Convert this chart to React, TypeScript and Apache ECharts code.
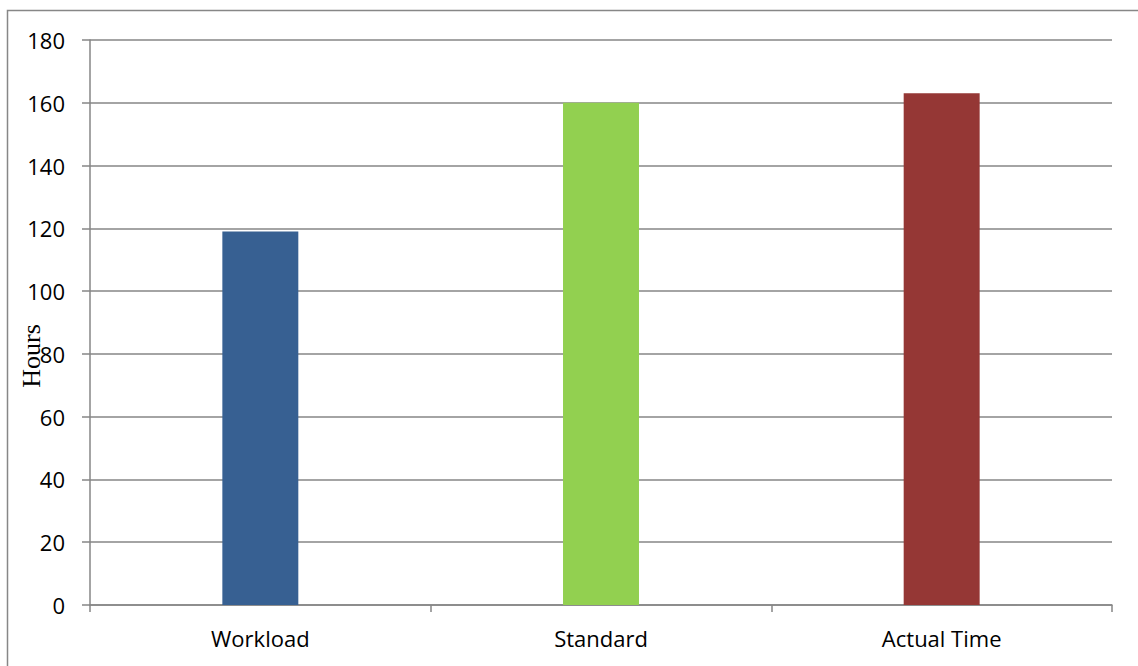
import React, { useEffect, useRef } from "react";
import * as echarts from "echarts";

const categories = ["Workload", "Standard", "Actual Time"];
const hours = [119, 160, 163];
const barColors = ["#376092", "#92D050", "#953735"];
const yTicks = { min: 0, max: 180, interval: 20 };

export default function App() {
  const ref = useRef<HTMLDivElement>(null);

  useEffect(() => {
    if (!ref.current) return;
    const chart = echarts.init(ref.current, undefined, { renderer: "svg" });
    const font = "Open Sans, Liberation Sans, sans-serif";
    chart.setOption({
      animation: false,
      backgroundColor: "#ffffff",
      grid: { left: 90, top: 40, right: 26, bottom: 61, containLabel: false },
      xAxis: {
        type: "category",
        data: categories,
        axisLine: { show: true, lineStyle: { color: "#868686", width: 1.5 } },
        axisTick: { show: true, length: 7, lineStyle: { color: "#868686", width: 1.5 } },
        axisLabel: { color: "#000", fontSize: 22, fontFamily: font, margin: 22 },
      },
      yAxis: {
        type: "value",
        min: yTicks.min,
        max: yTicks.max,
        interval: yTicks.interval,
        axisLine: { show: true, lineStyle: { color: "#868686", width: 1.5 } },
        axisTick: { show: true, length: 8, lineStyle: { color: "#868686", width: 1.5 } },
        axisLabel: { color: "#000", fontSize: 22, fontFamily: font, margin: 25 },
        splitLine: { show: true, lineStyle: { color: "#868686", width: 1.5 } },
      },
      series: [
        {
          type: "bar",
          barWidth: "22.3%",
          data: hours.map((v, i) => ({ value: v, itemStyle: { color: barColors[i] } })),
        },
      ],
      graphic: [
        {
          type: "rect",
          silent: true,
          shape: { x: 7.5, y: 10.5, width: 1300, height: 800 },
          style: { fill: "none", stroke: "#878787", lineWidth: 1.5 },
        },
        {
          type: "text",
          x: 31,
          y: 356,
          rotation: Math.PI / 2,
          style: {
            text: "Hours",
            fill: "#000",
            fontSize: 26,
            fontFamily: "Liberation Serif, DejaVu Serif, serif",
            align: "center",
            verticalAlign: "middle",
          },
        },
      ],
    });
    return () => chart.dispose();
  }, []);

  return (
    <div
      ref={ref}
      style={{ position: "absolute", left: 0, top: 0, width: 1138, height: 666 }}
    />
  );
}
